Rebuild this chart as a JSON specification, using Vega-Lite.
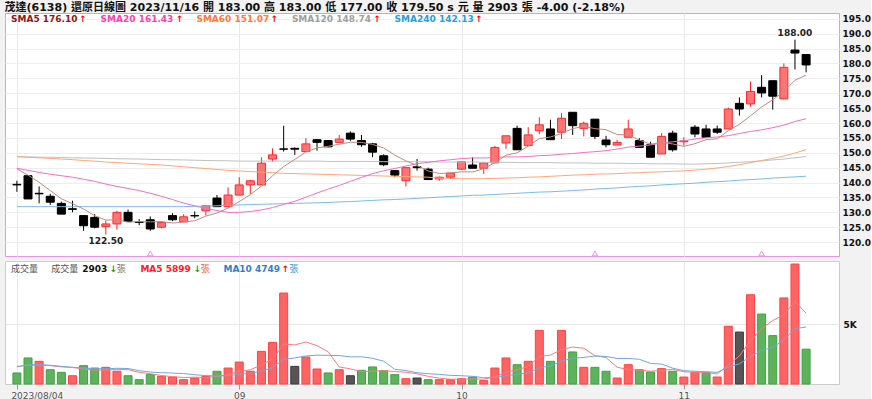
{
"$schema": "https://vega.github.io/schema/vega-lite/v6.json",
"background": "#f2f2f2",
"padding": {"left": 4, "top": 1, "right": 0, "bottom": 0},
"spacing": 1,
"title": {"text": "茂達(6138)   還原日線圖    2023/11/16 開 183.00 高 183.00 低 177.00 收 179.50 s 元 量 2903 張 -4.00 (-2.18%)", "anchor": "start", "fontSize": 11, "font": "DejaVu Sans, Noto Sans CJK TC", "fontWeight": "bold", "offset": 0, "color": "#111111"},
"config": {"view": {"stroke": null}, "text": {"font": "DejaVu Sans, Noto Sans CJK TC", "align": "left", "baseline": "middle", "fontSize": 9, "fontWeight": "bold"}},
"datasets": {
"k": [
{"d":"2023-08-04","i":0,"o":139.4,"h":140.6,"l":136.9,"c":139.2,"v":920,"dir":"g","s5":144.6,"s20":144.8,"s60":148.7,"s120":148.7,"s240":131.9,"m5":1470,"m10":1420},
{"d":"2023-08-07","i":1,"o":142.3,"h":142.5,"l":134.5,"c":134.5,"v":2170,"dir":"g","s5":142.5,"s20":144.1,"s60":148.5,"s120":148.6,"s240":131.9,"m5":1560,"m10":1610},
{"d":"2023-08-08","i":2,"o":136.4,"h":138.7,"l":133.0,"c":136.2,"v":1890,"dir":"r","s5":140.1,"s20":143.4,"s60":148.3,"s120":148.55,"s240":131.9,"m5":1560,"m10":1610},
{"d":"2023-08-09","i":3,"o":135.4,"h":136.2,"l":132.5,"c":133.4,"v":1190,"dir":"g","s5":137.3,"s20":142.8,"s60":148.1,"s120":148.5,"s240":131.9,"m5":1530,"m10":1560},
{"d":"2023-08-10","i":4,"o":133.0,"h":133.6,"l":129.4,"c":129.4,"v":970,"dir":"g","s5":134.54,"s20":142.3,"s60":147.9,"s120":148.4,"s240":131.9,"m5":1430,"m10":1470},
{"d":"2023-08-11","i":5,"o":131.2,"h":133.9,"l":130.0,"c":131.0,"v":690,"dir":"r","s5":132.9,"s20":141.8,"s60":147.7,"s120":148.3,"s240":131.9,"m5":1380,"m10":1390},
{"d":"2023-08-14","i":6,"o":128.9,"h":129.0,"l":123.8,"c":125.5,"v":1530,"dir":"g","s5":131.1,"s20":141.1,"s60":147.4,"s120":148.25,"s240":131.9,"m5":1250,"m10":1330},
{"d":"2023-08-15","i":7,"o":128.3,"h":129.4,"l":124.6,"c":125.0,"v":1330,"dir":"g","s5":128.86,"s20":140.4,"s60":147.2,"s120":148.2,"s240":131.9,"m5":1140,"m10":1280},
{"d":"2023-08-16","i":8,"o":125.2,"h":127.2,"l":122.5,"c":126.1,"v":1390,"dir":"r","s5":127.4,"s20":139.5,"s60":146.9,"s120":148.1,"s240":131.9,"m5":1180,"m10":1260},
{"d":"2023-08-17","i":9,"o":126.1,"h":130.5,"l":124.2,"c":130.0,"v":1060,"dir":"r","s5":127.52,"s20":138.7,"s60":146.7,"s120":148.0,"s240":131.9,"m5":1200,"m10":1310},
{"d":"2023-08-18","i":10,"o":130.0,"h":130.9,"l":126.9,"c":126.9,"v":690,"dir":"g","s5":126.7,"s20":138.0,"s60":146.5,"s120":147.95,"s240":131.9,"m5":1200,"m10":1290},
{"d":"2023-08-21","i":11,"o":126.8,"h":127.7,"l":125.7,"c":126.6,"v":360,"dir":"g","s5":126.92,"s20":137.3,"s60":146.3,"s120":147.9,"s240":131.9,"m5":970,"m10":1110},
{"d":"2023-08-22","i":12,"o":127.5,"h":128.6,"l":123.8,"c":124.4,"v":780,"dir":"g","s5":126.8,"s20":136.4,"s60":146.1,"s120":147.8,"s240":131.9,"m5":860,"m10":1000},
{"d":"2023-08-23","i":13,"o":125.0,"h":126.9,"l":124.6,"c":126.6,"v":640,"dir":"r","s5":126.9,"s20":135.4,"s60":145.9,"s120":147.7,"s240":131.9,"m5":710,"m10":940},
{"d":"2023-08-24","i":14,"o":128.9,"h":129.7,"l":127.0,"c":127.5,"v":580,"dir":"r","s5":126.4,"s20":134.3,"s60":145.6,"s120":147.65,"s240":131.9,"m5":610,"m10":910},
{"d":"2023-08-25","i":15,"o":126.8,"h":129.4,"l":126.8,"c":128.5,"v":360,"dir":"r","s5":126.72,"s20":133.1,"s60":145.3,"s120":147.6,"s240":131.9,"m5":540,"m10":870},
{"d":"2023-08-28","i":16,"o":128.9,"h":130.3,"l":128.0,"c":128.8,"v":500,"dir":"r","s5":127.16,"s20":132.2,"s60":145.0,"s120":147.5,"s240":132.0,"m5":570,"m10":770},
{"d":"2023-08-29","i":17,"o":130.5,"h":132.2,"l":128.9,"c":132.2,"v":640,"dir":"r","s5":128.72,"s20":131.3,"s60":144.7,"s120":147.4,"s240":132.1,"m5":540,"m10":700},
{"d":"2023-08-30","i":18,"o":134.8,"h":135.8,"l":131.9,"c":131.9,"v":1060,"dir":"g","s5":129.78,"s20":130.6,"s60":144.4,"s120":147.35,"s240":132.2,"m5":630,"m10":670},
{"d":"2023-08-31","i":19,"o":131.9,"h":138.4,"l":131.9,"c":135.8,"v":1330,"dir":"r","s5":131.44,"s20":129.98,"s60":144.1,"s120":147.3,"s240":132.3,"m5":780,"m10":690},
{"d":"2023-09-01","i":20,"o":135.8,"h":141.8,"l":135.8,"c":139.2,"v":1830,"dir":"r","s5":133.58,"s20":129.98,"s60":143.9,"s120":147.2,"s240":132.5,"m5":1070,"m10":810},
{"d":"2023-09-04","i":21,"o":139.2,"h":140.9,"l":136.2,"c":140.6,"v":1060,"dir":"r","s5":135.94,"s20":130.28,"s60":143.7,"s120":147.2,"s240":132.6,"m5":1180,"m10":880},
{"d":"2023-09-05","i":22,"o":139.2,"h":148.5,"l":139.2,"c":146.5,"v":2720,"dir":"r","s5":138.8,"s20":130.8,"s60":143.5,"s120":147.2,"s240":132.7,"m5":1600,"m10":1070},
{"d":"2023-09-06","i":23,"o":147.9,"h":151.5,"l":147.0,"c":149.3,"v":3470,"dir":"r","s5":142.28,"s20":131.59,"s60":143.3,"s120":147.2,"s240":132.8,"m5":2080,"m10":1360},
{"d":"2023-09-07","i":24,"o":151.3,"h":159.1,"l":150.4,"c":151.2,"v":7580,"dir":"r","s5":145.36,"s20":132.68,"s60":143.1,"s120":147.2,"s240":132.9,"m5":3330,"m10":2060},
{"d":"2023-09-08","i":25,"o":151.5,"h":151.8,"l":149.3,"c":151.2,"v":1470,"dir":"k","s5":147.76,"s20":133.69,"s60":143.0,"s120":147.2,"s240":133.0,"m5":3260,"m10":2170},
{"d":"2023-09-11","i":26,"o":150.4,"h":154.9,"l":150.4,"c":153.0,"v":2250,"dir":"r","s5":150.24,"s20":135.07,"s60":142.9,"s120":147.2,"s240":133.1,"m5":3500,"m10":2340},
{"d":"2023-09-12","i":27,"o":154.4,"h":154.6,"l":150.7,"c":153.5,"v":1250,"dir":"r","s5":151.64,"s20":136.49,"s60":142.8,"s120":147.2,"s240":133.2,"m5":3200,"m10":2400},
{"d":"2023-09-13","i":28,"o":154.1,"h":154.3,"l":151.8,"c":152.0,"v":920,"dir":"g","s5":152.18,"s20":137.79,"s60":142.7,"s120":147.1,"s240":133.3,"m5":2690,"m10":2390},
{"d":"2023-09-14","i":29,"o":153.5,"h":156.0,"l":153.3,"c":154.6,"v":1190,"dir":"r","s5":152.86,"s20":139.02,"s60":142.6,"s120":147.1,"s240":133.5,"m5":1420,"m10":2370},
{"d":"2023-09-15","i":30,"o":156.6,"h":157.2,"l":154.0,"c":154.6,"v":690,"dir":"k","s5":153.54,"s20":140.4,"s60":142.5,"s120":147.1,"s240":133.6,"m5":1260,"m10":2260},
{"d":"2023-09-18","i":31,"o":154.1,"h":156.0,"l":152.0,"c":152.7,"v":1140,"dir":"g","s5":153.48,"s20":141.71,"s60":142.4,"s120":147.1,"s240":133.8,"m5":1040,"m10":2270},
{"d":"2023-09-19","i":32,"o":153.0,"h":153.3,"l":148.5,"c":150.2,"v":1420,"dir":"g","s5":152.82,"s20":143.0,"s60":142.3,"s120":147.1,"s240":134.0,"m5":1070,"m10":2140},
{"d":"2023-09-20","i":33,"o":149.0,"h":149.5,"l":145.5,"c":146.0,"v":1110,"dir":"g","s5":151.62,"s20":143.97,"s60":142.2,"s120":147.0,"s240":134.2,"m5":1110,"m10":1900},
{"d":"2023-09-21","i":34,"o":144.0,"h":144.2,"l":141.8,"c":142.5,"v":780,"dir":"g","s5":149.2,"s20":144.72,"s60":142.1,"s120":147.0,"s240":134.3,"m5":1030,"m10":1220},
{"d":"2023-09-22","i":35,"o":140.6,"h":145.0,"l":138.7,"c":145.0,"v":440,"dir":"r","s5":147.28,"s20":145.54,"s60":142.0,"s120":147.0,"s240":134.5,"m5":980,"m10":1120},
{"d":"2023-09-25","i":36,"o":145.3,"h":147.9,"l":144.0,"c":145.0,"v":500,"dir":"k","s5":145.74,"s20":146.35,"s60":141.9,"s120":147.0,"s240":134.7,"m5":850,"m10":940},
{"d":"2023-09-26","i":37,"o":144.5,"h":145.0,"l":141.0,"c":141.0,"v":360,"dir":"g","s5":143.9,"s20":146.79,"s60":141.8,"s120":147.0,"s240":134.9,"m5":640,"m10":860},
{"d":"2023-09-27","i":38,"o":141.2,"h":142.0,"l":140.6,"c":141.8,"v":360,"dir":"r","s5":143.06,"s20":147.29,"s60":141.5,"s120":146.9,"s240":135.1,"m5":490,"m10":800},
{"d":"2023-09-28","i":39,"o":141.8,"h":143.2,"l":141.2,"c":143.2,"v":360,"dir":"r","s5":143.2,"s20":147.66,"s60":141.4,"s120":146.9,"s240":135.3,"m5":400,"m10":720},
{"d":"2023-10-02","i":40,"o":144.5,"h":147.0,"l":144.3,"c":147.0,"v":440,"dir":"r","s5":143.6,"s20":148.05,"s60":141.3,"s120":146.9,"s240":135.5,"m5":400,"m10":690},
{"d":"2023-10-03","i":41,"o":145.9,"h":148.5,"l":144.8,"c":144.8,"v":580,"dir":"g","s5":143.56,"s20":148.26,"s60":141.3,"s120":146.9,"s240":135.7,"m5":420,"m10":640},
{"d":"2023-10-04","i":42,"o":144.8,"h":146.6,"l":142.9,"c":146.6,"v":280,"dir":"r","s5":144.68,"s20":148.26,"s60":141.3,"s120":146.8,"s240":135.8,"m5":400,"m10":520},
{"d":"2023-10-05","i":43,"o":146.6,"h":152.3,"l":146.6,"c":151.8,"v":1330,"dir":"r","s5":146.68,"s20":148.39,"s60":141.4,"s120":146.8,"s240":136.0,"m5":600,"m10":540},
{"d":"2023-10-06","i":44,"o":153.3,"h":155.7,"l":151.3,"c":155.7,"v":2170,"dir":"r","s5":149.18,"s20":148.61,"s60":141.5,"s120":146.8,"s240":136.2,"m5":960,"m10":680},
{"d":"2023-10-11","i":45,"o":158.2,"h":159.1,"l":151.0,"c":151.0,"v":1610,"dir":"g","s5":149.98,"s20":148.6,"s60":141.6,"s120":146.7,"s240":136.4,"m5":1190,"m10":800},
{"d":"2023-10-12","i":46,"o":152.4,"h":158.6,"l":152.4,"c":156.0,"v":1890,"dir":"r","s5":152.22,"s20":148.75,"s60":141.8,"s120":146.7,"s240":136.6,"m5":1460,"m10":940},
{"d":"2023-10-13","i":47,"o":157.4,"h":161.9,"l":156.3,"c":159.4,"v":4470,"dir":"r","s5":154.78,"s20":149.05,"s60":141.9,"s120":146.7,"s240":136.8,"m5":2290,"m10":1350},
{"d":"2023-10-16","i":48,"o":158.0,"h":161.1,"l":154.4,"c":154.4,"v":1890,"dir":"g","s5":155.3,"s20":149.17,"s60":142.1,"s120":146.7,"s240":136.9,"m5":2410,"m10":1500},
{"d":"2023-10-17","i":49,"o":156.9,"h":163.3,"l":154.6,"c":161.6,"v":4470,"dir":"r","s5":156.48,"s20":149.52,"s60":142.3,"s120":146.6,"s240":137.1,"m5":2870,"m10":1910},
{"d":"2023-10-18","i":50,"o":163.6,"h":163.6,"l":156.0,"c":159.1,"v":2670,"dir":"g","s5":158.1,"s20":149.74,"s60":142.5,"s120":146.6,"s240":137.3,"m5":3080,"m10":2140},
{"d":"2023-10-19","i":51,"o":158.2,"h":160.5,"l":155.5,"c":159.9,"v":1390,"dir":"r","s5":158.88,"s20":150.1,"s60":142.6,"s120":146.6,"s240":137.5,"m5":2980,"m10":2220},
{"d":"2023-10-20","i":52,"o":161.3,"h":161.3,"l":154.6,"c":155.5,"v":1390,"dir":"g","s5":158.1,"s20":150.37,"s60":142.8,"s120":146.5,"s240":137.8,"m5":2360,"m10":2330},
{"d":"2023-10-23","i":53,"o":154.3,"h":155.7,"l":151.8,"c":152.7,"v":1060,"dir":"g","s5":157.76,"s20":150.7,"s60":142.9,"s120":146.5,"s240":138.0,"m5":2200,"m10":2300},
{"d":"2023-10-24","i":54,"o":152.6,"h":154.3,"l":152.6,"c":153.5,"v":500,"dir":"r","s5":156.14,"s20":151.25,"s60":143.0,"s120":146.5,"s240":138.2,"m5":1400,"m10":2130},
{"d":"2023-10-25","i":55,"o":155.2,"h":161.1,"l":155.2,"c":158.0,"v":1610,"dir":"r","s5":155.92,"s20":151.9,"s60":143.2,"s120":146.4,"s240":138.5,"m5":1190,"m10":2130},
{"d":"2023-10-26","i":56,"o":154.1,"h":154.9,"l":151.8,"c":151.8,"v":1190,"dir":"g","s5":154.3,"s20":152.24,"s60":143.3,"s120":146.4,"s240":138.7,"m5":1150,"m10":2060},
{"d":"2023-10-27","i":57,"o":152.7,"h":153.7,"l":148.5,"c":148.5,"v":1000,"dir":"g","s5":152.9,"s20":152.62,"s60":143.5,"s120":146.3,"s240":138.9,"m5":1070,"m10":1720},
{"d":"2023-10-30","i":58,"o":149.6,"h":156.6,"l":149.6,"c":155.5,"v":1280,"dir":"r","s5":153.46,"s20":153.3,"s60":143.6,"s120":146.3,"s240":139.2,"m5":1120,"m10":1660},
{"d":"2023-10-31","i":59,"o":156.6,"h":157.4,"l":150.4,"c":151.0,"v":1060,"dir":"g","s5":152.96,"s20":153.69,"s60":143.8,"s120":146.3,"s240":139.4,"m5":1230,"m10":1320},
{"d":"2023-11-01","i":60,"o":153.7,"h":155.2,"l":152.4,"c":154.0,"v":580,"dir":"r","s5":152.16,"s20":154.04,"s60":143.9,"s120":146.2,"s240":139.6,"m5":1020,"m10":1110},
{"d":"2023-11-02","i":61,"o":158.6,"h":159.3,"l":155.2,"c":156.3,"v":970,"dir":"r","s5":153.06,"s20":154.62,"s60":144.2,"s120":146.2,"s240":139.8,"m5":980,"m10":1060},
{"d":"2023-11-03","i":62,"o":158.0,"h":159.4,"l":155.2,"c":155.2,"v":970,"dir":"g","s5":154.4,"s20":155.05,"s60":144.5,"s120":146.3,"s240":140.1,"m5":970,"m10":1020},
{"d":"2023-11-06","i":63,"o":158.0,"h":159.1,"l":156.3,"c":156.9,"v":580,"dir":"r","s5":154.68,"s20":155.3,"s60":144.9,"s120":146.4,"s240":140.3,"m5":830,"m10":970},
{"d":"2023-11-07","i":64,"o":158.0,"h":165.2,"l":158.0,"c":164.7,"v":4810,"dir":"r","s5":157.42,"s20":155.75,"s60":145.4,"s120":146.6,"s240":140.5,"m5":1580,"m10":1410},
{"d":"2023-11-08","i":65,"o":166.6,"h":168.6,"l":162.5,"c":164.7,"v":4330,"dir":"k","s5":159.56,"s20":156.44,"s60":146.0,"s120":146.8,"s240":140.8,"m5":2330,"m10":1680},
{"d":"2023-11-09","i":66,"o":166.4,"h":173.9,"l":165.5,"c":170.6,"v":7440,"dir":"r","s5":162.42,"s20":157.17,"s60":146.7,"s120":147.0,"s240":141.0,"m5":3630,"m10":2300},
{"d":"2023-11-10","i":67,"o":172.0,"h":176.1,"l":168.6,"c":170.1,"v":5830,"dir":"g","s5":165.4,"s20":157.7,"s60":147.4,"s120":147.3,"s240":141.2,"m5":4600,"m10":2790},
{"d":"2023-11-13","i":68,"o":174.2,"h":174.2,"l":164.5,"c":169.0,"v":4030,"dir":"g","s5":167.8,"s20":158.43,"s60":148.1,"s120":147.6,"s240":141.5,"m5":5290,"m10":3060},
{"d":"2023-11-14","i":69,"o":168.1,"h":180.0,"l":168.1,"c":178.7,"v":7170,"dir":"r","s5":170.6,"s20":159.29,"s60":148.9,"s120":147.9,"s240":141.7,"m5":5760,"m10":3670},
{"d":"2023-11-15","i":70,"o":184.5,"h":188.0,"l":178.0,"c":183.5,"v":10000,"dir":"r","s5":174.36,"s20":160.51,"s60":149.9,"s120":148.3,"s240":141.9,"m5":6890,"m10":4610},
{"d":"2023-11-16","i":71,"o":183.0,"h":183.0,"l":177.0,"c":179.5,"v":2903,"dir":"g","s5":176.1,"s20":161.43,"s60":151.07,"s120":148.74,"s240":142.13,"m5":5899,"m10":4749}
],
"ev": [{"d":"2023-08-22","i":12},{"d":"2023-10-20","i":52},{"d":"2023-11-10","i":67}]
},
"vconcat": [
{
"width": 834, "height": 243,
"view": {"stroke": "#e993e9", "strokeWidth": 1, "fill": "#ffffff"},
"data": {"name": "k"},
"encoding": {"x": {"field": "i", "type": "quantitative", "title": null, "scale": {"domain": [-0.62, 73.51], "nice": false, "zero": false}, "axis": {"values": [0, 20, 40, 60], "labels": false, "ticks": false, "domain": false, "title": null, "grid": true, "gridColor": "#e8e8e8"}}},
"layer": [
{"mark": {"type": "rule", "strokeWidth": 1},
 "encoding": {"y": {"field": "l", "type": "quantitative", "title": null, "scale": {"domain": [115.33, 196.95], "nice": false, "zero": false}, "axis": {"orient": "right", "values": [120,125,130,135,140,145,150,155,160,165,170,175,180,185,190,195], "format": ".1f", "title": null, "grid": true, "gridColor": "#eeeeee", "ticks": false, "domain": false, "labelFont": "DejaVu Sans", "labelFontSize": 9, "labelFontWeight": "bold", "labelColor": "#111111", "labelPadding": 3}},
  "y2": {"field": "h"},
  "color": {"condition": {"test": "datum.c < datum.o", "value": "#000000"}, "value": "#ff2020"}}},
{"mark": {"type": "bar", "size": 8, "strokeWidth": 1},
 "encoding": {"y": {"field": "o", "type": "quantitative", "title": null, "scale": {"domain": [115.33, 196.95], "nice": false, "zero": false}, "axis": {"orient": "right", "values": [120,125,130,135,140,145,150,155,160,165,170,175,180,185,190,195], "format": ".1f", "title": null, "grid": true, "gridColor": "#eeeeee", "ticks": false, "domain": false, "labelFont": "DejaVu Sans", "labelFontSize": 9, "labelFontWeight": "bold", "labelColor": "#111111", "labelPadding": 3}},
  "y2": {"field": "c"},
  "fill": {"condition": {"test": "datum.c < datum.o", "value": "#000000"}, "value": "#ff7474"},
  "stroke": {"condition": {"test": "datum.c < datum.o", "value": "#000000"}, "value": "#ff2a2a"}}},
{"transform": [{"fold": ["s120", "s240", "s60", "s20", "s5"], "as": ["ma", "val"]}],
 "mark": {"type": "line", "strokeWidth": 1},
 "encoding": {"y": {"field": "val", "type": "quantitative", "title": null, "scale": {"domain": [115.33, 196.95], "nice": false, "zero": false}, "axis": {"orient": "right", "values": [120,125,130,135,140,145,150,155,160,165,170,175,180,185,190,195], "format": ".1f", "title": null, "grid": true, "gridColor": "#eeeeee", "ticks": false, "domain": false, "labelFont": "DejaVu Sans", "labelFontSize": 9, "labelFontWeight": "bold", "labelColor": "#111111", "labelPadding": 3}},
  "color": {"field": "ma", "type": "nominal", "scale": {"domain": ["s5", "s20", "s60", "s120", "s240"], "range": ["#c48a80", "#f070c8", "#ffa676", "#c0c0c0", "#78bde9"]}, "legend": null}}},
{"transform": [{"joinaggregate": [{"op": "min", "field": "l", "as": "minL"}]}, {"filter": "datum.l == datum.minL"}],
 "mark": {"type": "text", "align": "center", "baseline": "top", "dy": 2, "color": "#222222"},
 "encoding": {"y": {"field": "l", "type": "quantitative", "title": null, "scale": {"domain": [115.33, 196.95], "nice": false, "zero": false}, "axis": {"orient": "right", "values": [120,125,130,135,140,145,150,155,160,165,170,175,180,185,190,195], "format": ".1f", "title": null, "grid": true, "gridColor": "#eeeeee", "ticks": false, "domain": false, "labelFont": "DejaVu Sans", "labelFontSize": 9, "labelFontWeight": "bold", "labelColor": "#111111", "labelPadding": 3}}, "text": {"field": "l", "type": "quantitative", "format": ".2f"}}},
{"transform": [{"joinaggregate": [{"op": "max", "field": "h", "as": "maxH"}]}, {"filter": "datum.h == datum.maxH"}],
 "mark": {"type": "text", "align": "center", "baseline": "bottom", "dy": -2, "color": "#222222"},
 "encoding": {"y": {"field": "h", "type": "quantitative", "title": null, "scale": {"domain": [115.33, 196.95], "nice": false, "zero": false}, "axis": {"orient": "right", "values": [120,125,130,135,140,145,150,155,160,165,170,175,180,185,190,195], "format": ".1f", "title": null, "grid": true, "gridColor": "#eeeeee", "ticks": false, "domain": false, "labelFont": "DejaVu Sans", "labelFontSize": 9, "labelFontWeight": "bold", "labelColor": "#111111", "labelPadding": 3}}, "text": {"field": "h", "type": "quantitative", "format": ".2f"}}},
{"data": {"name": "ev"},
 "mark": {"type": "point", "shape": "triangle-up", "size": 30, "filled": true, "fill": "#ffffff", "stroke": "#e993e9", "strokeWidth": 1, "opacity": 1},
 "encoding": {"y": {"datum": 116.2, "title": null, "scale": {"domain": [115.33, 196.95], "nice": false, "zero": false}, "axis": {"orient": "right", "values": [120,125,130,135,140,145,150,155,160,165,170,175,180,185,190,195], "format": ".1f", "title": null, "grid": true, "gridColor": "#eeeeee", "ticks": false, "domain": false, "labelFont": "DejaVu Sans", "labelFontSize": 9, "labelFontWeight": "bold", "labelColor": "#111111", "labelPadding": 3}}}},
{"layer": [
 {"mark": {"type": "text", "color": "#8b1a1a", "text": "SMA5 176.10"}, "encoding": {"x": {"datum": -0.53}}},
 {"mark": {"type": "text", "color": "#ff3fb0", "text": "SMA20 161.43"}, "encoding": {"x": {"datum": 7.53}}},
 {"mark": {"type": "text", "color": "#ff7a3a", "text": "SMA60 151.07"}, "encoding": {"x": {"datum": 16.15}}},
 {"mark": {"type": "text", "color": "#a0a0a0", "text": "SMA120 148.74"}, "encoding": {"x": {"datum": 24.74}}},
 {"mark": {"type": "text", "color": "#2a9ee0", "text": "SMA240 142.13"}, "encoding": {"x": {"datum": 33.98}}},
 {"mark": {"type": "text", "color": "#ff0000", "text": "↑"}, "encoding": {"x": {"datum": 5.6}}},
 {"mark": {"type": "text", "color": "#ff0000", "text": "↑"}, "encoding": {"x": {"datum": 14.31}}},
 {"mark": {"type": "text", "color": "#ff0000", "text": "↑"}, "encoding": {"x": {"datum": 22.84}}},
 {"mark": {"type": "text", "color": "#ff0000", "text": "↑"}, "encoding": {"x": {"datum": 32.09}}},
 {"mark": {"type": "text", "color": "#ff0000", "text": "↑"}, "encoding": {"x": {"datum": 41.24}}}
 ],
 "transform": [{"filter": "datum.i == 71"}],
 "encoding": {"y": {"datum": 194.8, "title": null, "scale": {"domain": [115.33, 196.95], "nice": false, "zero": false}, "axis": {"orient": "right", "values": [120,125,130,135,140,145,150,155,160,165,170,175,180,185,190,195], "format": ".1f", "title": null, "grid": true, "gridColor": "#eeeeee", "ticks": false, "domain": false, "labelFont": "DejaVu Sans", "labelFontSize": 9, "labelFontWeight": "bold", "labelColor": "#111111", "labelPadding": 3}}}
}
]
},
{
"width": 834, "height": 123,
"view": {"stroke": "#cccccc", "strokeWidth": 1, "fill": "#ffffff"},
"data": {"name": "k"},
"encoding": {"x": {"field": "i", "type": "quantitative", "title": null, "scale": {"domain": [-0.62, 73.51], "nice": false, "zero": false}, "axis": {"values": [0, 20, 40, 60], "labelExpr": "datum.value == 0 ? '2023/08/04' : datum.value == 20 ? '09' : datum.value == 40 ? '10' : '11'", "title": null, "grid": true, "gridColor": "#e8e8e8", "domain": false, "tickSize": 5, "tickColor": "#999999", "labelFont": "DejaVu Sans", "labelFontSize": 9, "labelColor": "#555555", "labelFlush": false, "labelAlign": {"condition": {"test": "datum.value == 0", "value": "left"}, "value": "center"}, "labelOffset": {"condition": {"test": "datum.value == 0", "value": -6}, "value": 0}, "labelPadding": 2}}},
"layer": [
{"mark": {"type": "bar", "size": 8, "strokeWidth": 1},
 "encoding": {"y": {"field": "v", "type": "quantitative", "title": null, "scale": {"domain": [0, 10250], "nice": false}, "axis": {"orient": "right", "values": [5000], "labelExpr": "'5K'", "title": null, "grid": true, "gridColor": "#e8e8e8", "ticks": false, "domain": false, "labelFont": "DejaVu Sans", "labelFontSize": 9, "labelFontWeight": "bold", "labelColor": "#111111", "labelPadding": 4}},
  "fill": {"field": "dir", "type": "nominal", "scale": {"domain": ["r", "g", "k"], "range": ["#ff6464", "#5cb35c", "#555555"]}, "legend": null},
  "stroke": {"field": "dir", "type": "nominal", "scale": {"domain": ["r", "g", "k"], "range": ["#ff4242", "#43a043", "#3a3a3a"]}, "legend": null}}},
{"mark": {"type": "line", "color": "#ff7a7a", "strokeWidth": 1},
 "encoding": {"y": {"field": "m5", "type": "quantitative", "title": null, "scale": {"domain": [0, 10250], "nice": false}, "axis": {"orient": "right", "values": [5000], "labelExpr": "'5K'", "title": null, "grid": true, "gridColor": "#e8e8e8", "ticks": false, "domain": false, "labelFont": "DejaVu Sans", "labelFontSize": 9, "labelFontWeight": "bold", "labelColor": "#111111", "labelPadding": 4}}}},
{"mark": {"type": "line", "color": "#6fa8dc", "strokeWidth": 1},
 "encoding": {"y": {"field": "m10", "type": "quantitative", "title": null, "scale": {"domain": [0, 10250], "nice": false}, "axis": {"orient": "right", "values": [5000], "labelExpr": "'5K'", "title": null, "grid": true, "gridColor": "#e8e8e8", "ticks": false, "domain": false, "labelFont": "DejaVu Sans", "labelFontSize": 9, "labelFontWeight": "bold", "labelColor": "#111111", "labelPadding": 4}}}},
{"layer": [
 {"mark": {"type": "text", "color": "#555555", "text": "成交量", "fontWeight": "normal", "font": "Noto Sans CJK TC"}, "encoding": {"x": {"datum": -0.53}}},
 {"mark": {"type": "text", "color": "#555555", "text": "成交量", "fontWeight": "normal", "font": "Noto Sans CJK TC"}, "encoding": {"x": {"datum": 3.08}}},
 {"mark": {"type": "text", "color": "#111111", "text": "2903"}, "encoding": {"x": {"datum": 5.87}}},
 {"mark": {"type": "text", "color": "#1a9a1a", "text": "↓"}, "encoding": {"x": {"datum": 8.36}}},
 {"mark": {"type": "text", "color": "#777777", "text": "張", "fontWeight": "normal", "font": "Noto Sans CJK TC"}, "encoding": {"x": {"datum": 8.98}}},
 {"mark": {"type": "text", "color": "#ff2020", "text": "MA5 5899"}, "encoding": {"x": {"datum": 11.11}}},
 {"mark": {"type": "text", "color": "#1a9a1a", "text": "↓"}, "encoding": {"x": {"datum": 15.91}}},
 {"mark": {"type": "text", "color": "#ff5a5a", "text": "張", "fontWeight": "normal", "font": "Noto Sans CJK TC"}, "encoding": {"x": {"datum": 16.53}}},
 {"mark": {"type": "text", "color": "#2f7fd0", "text": "MA10 4749"}, "encoding": {"x": {"datum": 18.58}}},
 {"mark": {"type": "text", "color": "#ff0000", "text": "↑"}, "encoding": {"x": {"datum": 23.82}}},
 {"mark": {"type": "text", "color": "#4a90d8", "text": "張", "fontWeight": "normal", "font": "Noto Sans CJK TC"}, "encoding": {"x": {"datum": 24.53}}}
 ],
 "transform": [{"filter": "datum.i == 71"}],
 "encoding": {"y": {"datum": 9600, "title": null, "scale": {"domain": [0, 10250], "nice": false}, "axis": {"orient": "right", "values": [5000], "labelExpr": "'5K'", "title": null, "grid": true, "gridColor": "#e8e8e8", "ticks": false, "domain": false, "labelFont": "DejaVu Sans", "labelFontSize": 9, "labelFontWeight": "bold", "labelColor": "#111111", "labelPadding": 4}}}
}
]
}
]
}
